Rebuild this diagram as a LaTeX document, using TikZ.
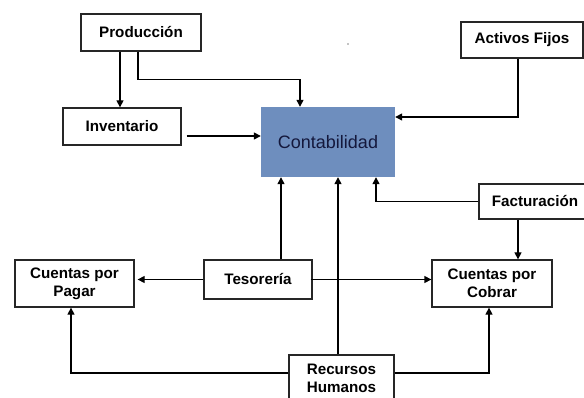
\documentclass[tikz,border=0pt]{standalone}
\usepackage{fontspec}
\setmainfont{Liberation Sans}
\usetikzlibrary{arrows.meta}
\definecolor{contblue}{RGB}{110,142,190}
\definecolor{contink}{RGB}{20,24,60}
\begin{document}
\begin{tikzpicture}[x=1pt,y=-1pt,
  box/.style={draw=black!85,line width=1.3pt,fill=white,align=center,inner sep=0pt,
    font=\fontsize{15.2}{18}\selectfont\bfseries},
  arr/.style={line width=1.3pt,-{Triangle[length=7pt,width=7pt]}}]
\useasboundingbox (0,0) rectangle (584,398);

% Boxes
\node[box,minimum width=120pt,minimum height=37pt] (prod) at (141,32.5) {Producción};
\node[box,minimum width=118pt,minimum height=37pt] (inv) at (122,126.5) {Inventario};
\node[fill=contblue,minimum width=134pt,minimum height=70pt,inner sep=0pt,
  text=contink,font=\fontsize{18}{21}\selectfont] (cont) at (328,142) {Contabilidad};
\node[box,minimum width=122pt,minimum height=36pt] (act) at (522,40) {Activos Fijos};
\node[box,minimum width=112pt,minimum height=35pt] (fact) at (535,201.5) {Facturación};
\node[box,minimum width=108pt,minimum height=39pt] (tes) at (258,279.5) {Tesorería};
\node[box,minimum width=119pt,minimum height=47pt] (cpp) at (74.5,283.5) {Cuentas por\\Pagar};
\node[box,minimum width=120pt,minimum height=47pt] (cpc) at (492,283.5) {Cuentas por\\Cobrar};
\node[box,minimum width=105pt,minimum height=47pt] (rh) at (341.5,378.5) {Recursos\\Humanos};

% Connectors into Contabilidad
\draw[arr] ([xshift=-3pt]prod.south) -- ++(0,28) -| ([xshift=-28pt]cont.north);
\draw[arr] ([xshift=5pt,yshift=-9.5pt]inv.east) -- ([yshift=6pt]cont.west);
\draw[arr] ([xshift=-4pt]act.south) |- ([yshift=25pt]cont.east);
\draw[arr] (fact.west) -| ([xshift=48pt]cont.south);
\draw[arr] ([xshift=23pt]tes.north) -- ([xshift=-47pt]cont.south);
\draw[arr] ([xshift=-3.5pt]rh.north) -- ([xshift=10pt]cont.south);

% Other connectors
\draw[arr] ([xshift=-21pt]prod.south) -- ([xshift=-2pt]inv.north);
\draw[arr] ([xshift=-17pt]fact.south) -- ([xshift=26pt]cpc.north);
\draw[arr] (tes.west) -- ([xshift=3pt,yshift=4pt]cpp.east);
\draw[arr] ([xshift=-2pt]tes.east) -- ([yshift=4pt]cpc.west);
\draw[arr] ([yshift=5.5pt]rh.west) -| ([xshift=-3.5pt]cpp.south);
\draw[arr] ([yshift=5.5pt]rh.east) -| ([xshift=-3pt]cpc.south);

% stray dot
\fill (348,44) circle (0.6pt);
\end{tikzpicture}
\end{document}
